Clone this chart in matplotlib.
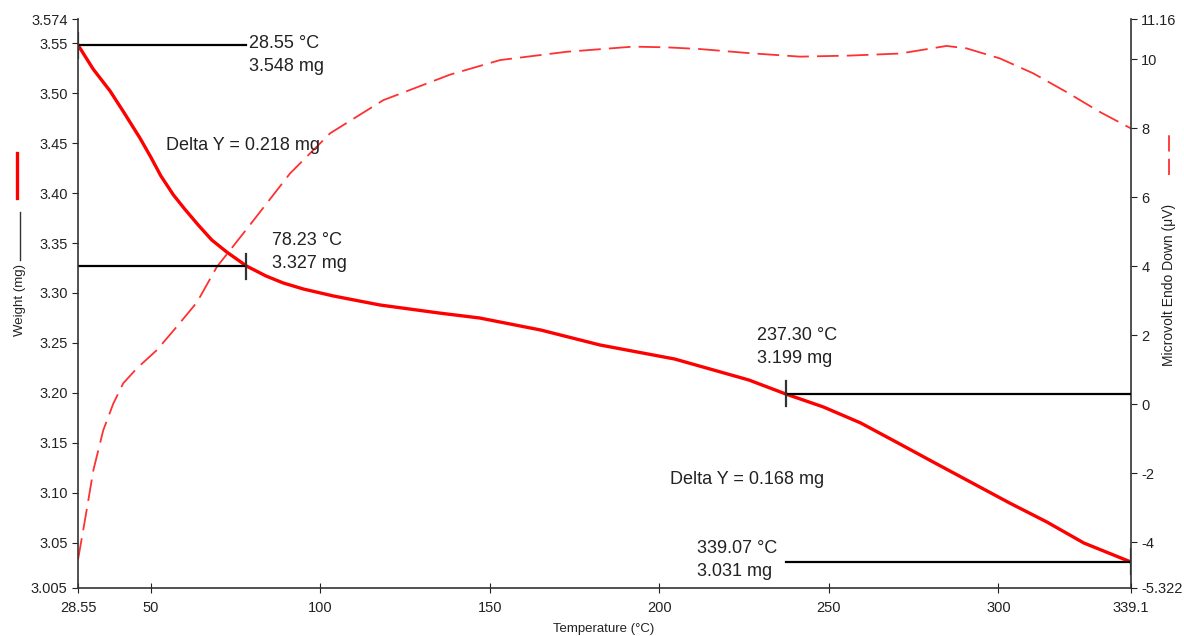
import matplotlib
matplotlib.use("Agg")
import matplotlib.pyplot as plt
from matplotlib.lines import Line2D

plt.rcParams['font.family'] = ['Liberation Sans', 'DejaVu Sans']

# weight curve (TGA)
temp_w = [28.55, 33, 38, 42, 46.8, 50, 53, 56.7, 60, 64, 68, 72.4, 78.23, 84, 89.1, 95,
          103.9, 117.6, 135, 147, 165, 182.5, 204.5, 226.4, 237.3, 248.4, 259.4, 270.4,
          281.3, 292.3, 303.3, 314.3, 325.2, 339.07]
weight = [3.548, 3.524, 3.502, 3.481, 3.455, 3.436, 3.417, 3.398, 3.384, 3.368, 3.353, 3.341,
          3.327, 3.317, 3.310, 3.304, 3.297, 3.288, 3.280, 3.275, 3.263, 3.248, 3.234, 3.213,
          3.199, 3.186, 3.170, 3.150, 3.130, 3.110, 3.090, 3.071, 3.050, 3.031]

# microvolt curve (DTA)
temp_uv = [28.55, 30.6, 33.1, 36.0, 39.0, 41.9, 45.9, 51.8, 57.7, 63.6, 69.5, 78.5, 91.1,
           102.9, 118.6, 125, 138.3, 153, 172.6, 192.3, 202.1, 212, 226.7, 241.5, 256, 271,
           284.7, 290.6, 300.4, 310.2, 320, 329.9, 339.1]
microvolt = [-4.5, -3.35, -1.9, -0.75, 0.03, 0.61, 1.04, 1.57, 2.25, 2.95, 3.98, 5.1, 6.69,
             7.85, 8.81, 9.05, 9.55, 9.97, 10.21, 10.36, 10.34, 10.29, 10.17, 10.07, 10.10,
             10.16, 10.38, 10.31, 10.02, 9.59, 9.05, 8.47, 7.99]

# step markers: (temp, weight)
steps = [(28.55, 3.548), (78.23, 3.327), (237.30, 3.199), (339.07, 3.031)]
step_spans = [(28.55, 78.23), (28.55, 78.23), (237.30, 339.1), (237.30, 339.1)]
label_pos = [(78.9, 3.538), (85.8, 3.341), (228.8, 3.246), (211.1, 3.033)]
deltas = ["Delta Y = 0.218 mg", "Delta Y = 0.168 mg"]
delta_pos = [(54.5, 3.448), (203.1, 3.113)]

xticks = [28.55, 50, 100, 150, 200, 250, 300, 339.1]
xlabels = ["28.55", "50", "100", "150", "200", "250", "300", "339.1"]
yticks = [3.005, 3.05, 3.10, 3.15, 3.20, 3.25, 3.30, 3.35, 3.40, 3.45, 3.50, 3.55, 3.574]
ylabels = ["3.005", "3.05", "3.10", "3.15", "3.20", "3.25", "3.30", "3.35", "3.40", "3.45",
           "3.50", "3.55", "3.574"]
y2ticks = [-5.322, -4, -2, 0, 2, 4, 6, 8, 10, 11.16]
y2labels = ["-5.322", "-4", "-2", "0", "2", "4", "6", "8", "10", "11.16"]

txt = "#222222"

fig = plt.figure(figsize=(11.84, 6.36), dpi=100)
ax = fig.add_axes([0.0659, 0.0755, 0.8893, 0.8946])
ax2 = ax.twinx()
ax.set_zorder(ax2.get_zorder() + 1)
ax.patch.set_visible(False)

ax2.plot(temp_uv, microvolt, color="#ff3030", lw=1.3, dashes=(12, 4.5))
ax.plot(temp_w, weight, color="red", lw=2.4)

for (t, w), (a, b), (lx, ly) in zip(steps, step_spans, label_pos):
    ax.plot([a, b], [w, w], color="black", lw=1.6)
    ax.plot([t, t], [w - 0.0125, w + 0.0125], color="#333333", lw=1.6)
    ax.text(lx, ly, "%.2f \u00b0C\n%.3f mg" % (t, w), fontsize=13, color=txt,
            va="center", ha="left", linespacing=1.4)
for s, (dx, dy) in zip(deltas, delta_pos):
    ax.text(dx, dy, s, fontsize=13, color=txt, va="center", ha="left")

ax.set_xlim(28.55, 339.1)
ax.set_ylim(3.005, 3.574)
ax2.set_ylim(-5.322, 11.16)
ax.set_xticks(xticks)
ax.set_xticklabels(xlabels)
ax.set_yticks(yticks)
ax.set_yticklabels(ylabels)
ax2.set_yticks(y2ticks)
ax2.set_yticklabels(y2labels)

for a in (ax, ax2):
    a.spines["top"].set_visible(False)
    for sp in a.spines.values():
        sp.set_color("#333333")
        sp.set_linewidth(1.2)
ax.spines["right"].set_visible(False)
ax2.spines["left"].set_visible(False)
ax2.spines["bottom"].set_visible(False)

ax.tick_params(axis="x", direction="inout", length=7, labelsize=10.5, colors=txt, pad=6)
ax.tick_params(axis="y", direction="out", length=4, labelsize=10.5, colors=txt)
ax2.tick_params(axis="y", direction="out", length=4, labelsize=10.5, colors=txt)

fig.text(0.51, 0.002, "Temperature (\u00b0C)", fontsize=9.5, color=txt, ha="center", va="bottom")
fig.text(0.0165, 0.528, "Weight (mg)", fontsize=9.5, color=txt, rotation=90,
         ha="center", va="center")
fig.add_artist(Line2D([0.0165, 0.0165], [0.591, 0.667], color="#333333", lw=1.0))
fig.add_artist(Line2D([0.0145, 0.0145], [0.689, 0.759], color="red", lw=2.4))
fig.text(0.9875, 0.552, "Microvolt Endo Down (\u03bcV)", fontsize=10, color=txt,
         rotation=90, ha="center", va="center")
fig.add_artist(Line2D([0.9875, 0.9875], [0.725, 0.788], color="#ff3030", lw=1.3,
                      dashes=(9, 4)))

fig.savefig("out.png", dpi=100)
